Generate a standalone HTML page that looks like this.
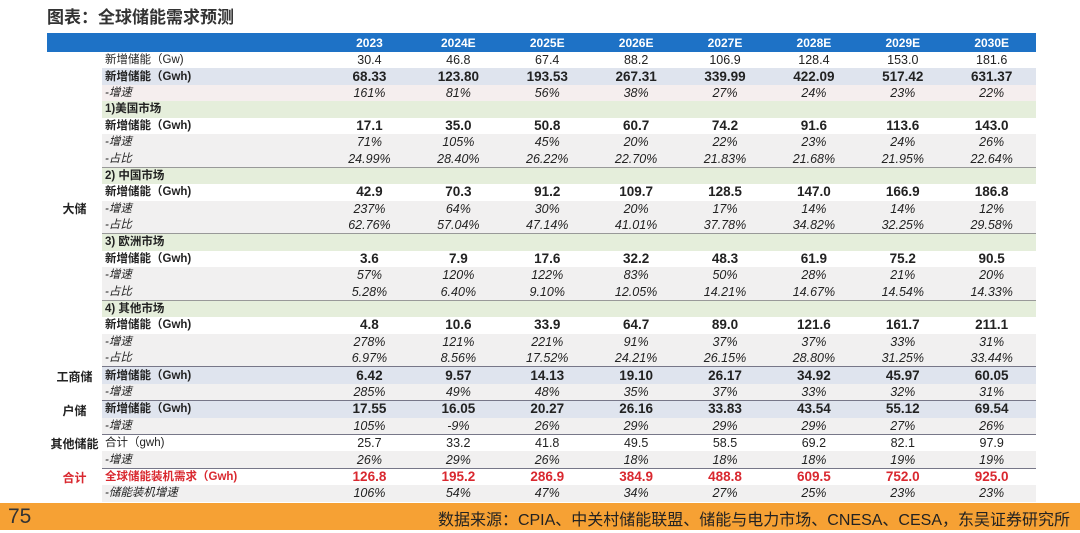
<!DOCTYPE html>
<html><head><meta charset="utf-8">
<style>
body{margin:0;width:1080px;height:533px;background:#fff;position:relative;overflow:hidden;font-family:"Liberation Sans","Noto Sans CJK SC",sans-serif;color:#222}
.title{position:absolute;left:47px;top:3px;font-size:17px;font-weight:bold;color:#333}
table{position:absolute;left:47px;top:33px;border-collapse:collapse;table-layout:fixed;width:989px}
td{height:16.4px;padding:0;font-size:12.5px;line-height:14px;text-align:center;white-space:nowrap;overflow:visible;vertical-align:middle}
tr.h td{height:19px;background:#1e72c6;color:#fff;font-weight:bold;font-size:12px}
td.l{text-align:left;padding-left:3px;font-size:11.5px}
tr.b td{font-weight:bold;font-size:13.5px}
tr.b td.l{font-size:11.5px}
tr.bb td{background:#dfe4ee}
tr.i td{font-style:italic;background:#f1f0f0}
tr.ip td{background:#f5eeee}
tr.g td{background:#e5eedb;font-weight:bold}
tr.sep td{border-bottom:1.5px solid #778}
tr.thin td{border-bottom:1px solid #999}
table tr td.grp{background:#fff;font-weight:bold;font-size:12px;font-style:normal;border-bottom:none;vertical-align:middle}
table tr td.grp2{padding-bottom:14px}
.red td{color:#d9282f}
tr.w td{background:#fff}
.foot{position:absolute;left:0;top:503px;width:1080px;height:27px;background:#f6a134}
.foot .n{position:absolute;left:8px;top:2px;font-size:21px;color:#333}
.foot .s{position:absolute;right:10px;top:3px;font-size:16px;color:#222}
</style></head><body>
<div class="title">图表：全球储能需求预测</div>
<table>
<colgroup><col style="width:55px"><col style="width:223px"><col span="8" style="width:88.9px"></colgroup>
<tr class="h"><td></td><td></td><td>2023</td><td>2024E</td><td>2025E</td><td>2026E</td><td>2027E</td><td>2028E</td><td>2029E</td><td>2030E</td></tr>
<tr class="w"><td rowspan="19" class="grp">大储</td><td class="l">新增储能（Gw)</td><td>30.4</td><td>46.8</td><td>67.4</td><td>88.2</td><td>106.9</td><td>128.4</td><td>153.0</td><td>181.6</td></tr>
<tr class="b bb"><td class="l">新增储能（Gwh)</td><td>68.33</td><td>123.80</td><td>193.53</td><td>267.31</td><td>339.99</td><td>422.09</td><td>517.42</td><td>631.37</td></tr>
<tr class="i ip"><td class="l">-增速</td><td>161%</td><td>81%</td><td>56%</td><td>38%</td><td>27%</td><td>24%</td><td>23%</td><td>22%</td></tr>
<tr class="g"><td class="l">1)美国市场</td><td></td><td></td><td></td><td></td><td></td><td></td><td></td><td></td></tr>
<tr class="b w"><td class="l">新增储能（Gwh)</td><td>17.1</td><td>35.0</td><td>50.8</td><td>60.7</td><td>74.2</td><td>91.6</td><td>113.6</td><td>143.0</td></tr>
<tr class="i"><td class="l">-增速</td><td>71%</td><td>105%</td><td>45%</td><td>20%</td><td>22%</td><td>23%</td><td>24%</td><td>26%</td></tr>
<tr class="i thin"><td class="l">-占比</td><td>24.99%</td><td>28.40%</td><td>26.22%</td><td>22.70%</td><td>21.83%</td><td>21.68%</td><td>21.95%</td><td>22.64%</td></tr>
<tr class="g"><td class="l">2) 中国市场</td><td></td><td></td><td></td><td></td><td></td><td></td><td></td><td></td></tr>
<tr class="b w"><td class="l">新增储能（Gwh)</td><td>42.9</td><td>70.3</td><td>91.2</td><td>109.7</td><td>128.5</td><td>147.0</td><td>166.9</td><td>186.8</td></tr>
<tr class="i"><td class="l">-增速</td><td>237%</td><td>64%</td><td>30%</td><td>20%</td><td>17%</td><td>14%</td><td>14%</td><td>12%</td></tr>
<tr class="i thin"><td class="l">-占比</td><td>62.76%</td><td>57.04%</td><td>47.14%</td><td>41.01%</td><td>37.78%</td><td>34.82%</td><td>32.25%</td><td>29.58%</td></tr>
<tr class="g"><td class="l">3) 欧洲市场</td><td></td><td></td><td></td><td></td><td></td><td></td><td></td><td></td></tr>
<tr class="b w"><td class="l">新增储能（Gwh)</td><td>3.6</td><td>7.9</td><td>17.6</td><td>32.2</td><td>48.3</td><td>61.9</td><td>75.2</td><td>90.5</td></tr>
<tr class="i"><td class="l">-增速</td><td>57%</td><td>120%</td><td>122%</td><td>83%</td><td>50%</td><td>28%</td><td>21%</td><td>20%</td></tr>
<tr class="i thin"><td class="l">-占比</td><td>5.28%</td><td>6.40%</td><td>9.10%</td><td>12.05%</td><td>14.21%</td><td>14.67%</td><td>14.54%</td><td>14.33%</td></tr>
<tr class="g"><td class="l">4) 其他市场</td><td></td><td></td><td></td><td></td><td></td><td></td><td></td><td></td></tr>
<tr class="b w"><td class="l">新增储能（Gwh)</td><td>4.8</td><td>10.6</td><td>33.9</td><td>64.7</td><td>89.0</td><td>121.6</td><td>161.7</td><td>211.1</td></tr>
<tr class="i"><td class="l">-增速</td><td>278%</td><td>121%</td><td>221%</td><td>91%</td><td>37%</td><td>37%</td><td>33%</td><td>31%</td></tr>
<tr class="i sep"><td class="l">-占比</td><td>6.97%</td><td>8.56%</td><td>17.52%</td><td>24.21%</td><td>26.15%</td><td>28.80%</td><td>31.25%</td><td>33.44%</td></tr>
<tr class="b bb"><td rowspan="2" class="grp grp2">工商储</td><td class="l">新增储能（Gwh)</td><td>6.42</td><td>9.57</td><td>14.13</td><td>19.10</td><td>26.17</td><td>34.92</td><td>45.97</td><td>60.05</td></tr>
<tr class="i sep"><td class="l">-增速</td><td>285%</td><td>49%</td><td>48%</td><td>35%</td><td>37%</td><td>33%</td><td>32%</td><td>31%</td></tr>
<tr class="b bb"><td rowspan="2" class="grp grp2">户储</td><td class="l">新增储能（Gwh)</td><td>17.55</td><td>16.05</td><td>20.27</td><td>26.16</td><td>33.83</td><td>43.54</td><td>55.12</td><td>69.54</td></tr>
<tr class="i sep"><td class="l">-增速</td><td>105%</td><td>-9%</td><td>26%</td><td>29%</td><td>29%</td><td>29%</td><td>27%</td><td>26%</td></tr>
<tr class="w"><td rowspan="2" class="grp grp2">其他储能</td><td class="l">合计（gwh)</td><td>25.7</td><td>33.2</td><td>41.8</td><td>49.5</td><td>58.5</td><td>69.2</td><td>82.1</td><td>97.9</td></tr>
<tr class="i sep"><td class="l">-增速</td><td>26%</td><td>29%</td><td>26%</td><td>18%</td><td>18%</td><td>18%</td><td>19%</td><td>19%</td></tr>
<tr class="b w red"><td rowspan="2" class="grp grp2" style="color:#d9282f">合计</td><td class="l">全球储能装机需求（Gwh)</td><td>126.8</td><td>195.2</td><td>286.9</td><td>384.9</td><td>488.8</td><td>609.5</td><td>752.0</td><td>925.0</td></tr>
<tr class="i"><td class="l">-储能装机增速</td><td>106%</td><td>54%</td><td>47%</td><td>34%</td><td>27%</td><td>25%</td><td>23%</td><td>23%</td></tr>
</table>
<div class="foot"><span class="n">75</span><span class="s">数据来源：CPIA、中关村储能联盟、储能与电力市场、CNESA、CESA，东吴证券研究所</span></div>
</body></html>
